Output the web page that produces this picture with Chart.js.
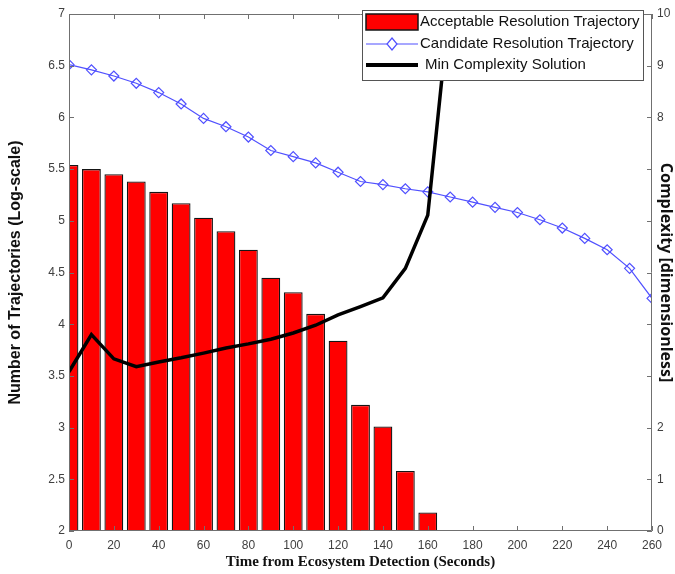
<!DOCTYPE html>
<html>
<head>
<meta charset="utf-8">
<script src="https://cdn.jsdelivr.net/npm/chart.js@4.4.1/dist/chart.umd.min.js"></script>
<style>
    html, body { margin: 0; padding: 0; background: #fff; }
    #wrap { width: 675px; height: 574px; }
</style>
</head>
<body>
<div id="wrap"><canvas id="trajChart" width="675" height="574"></canvas></div>
<script>
// Data
const barTimes = [0, 10, 20, 30, 40, 50, 60, 70, 80, 90, 100, 110, 120, 130, 140, 150, 160];
const acceptableValues = [5.54, 5.50, 5.45, 5.38, 5.28, 5.17, 5.03, 4.90, 4.72, 4.45, 4.31, 4.10, 3.84, 3.22, 3.01, 2.58, 2.18];

const candidateTimes = [0, 10, 20, 30, 40, 50, 60, 70, 80, 90, 100, 110, 120, 130, 140, 150, 160, 170, 180, 190, 200, 210, 220, 230, 240, 250, 260];
const candidateValues = [6.51, 6.46, 6.40, 6.33, 6.24, 6.13, 5.99, 5.91, 5.81, 5.68, 5.62, 5.56, 5.47, 5.38, 5.35, 5.31, 5.28, 5.23, 5.18, 5.13, 5.08, 5.01, 4.93, 4.83, 4.72, 4.54, 4.25];

const complexityTimes = [0, 10, 20, 30, 40, 50, 60, 70, 80, 90, 100, 110, 120, 130, 140, 150, 160, 170];
const complexityValues = [3.08, 3.80, 3.33, 3.18, 3.27, 3.35, 3.44, 3.54, 3.62, 3.71, 3.83, 3.98, 4.18, 4.34, 4.51, 5.08, 6.11, 10.3];

const leftTicks = [2, 2.5, 3, 3.5, 4, 4.5, 5, 5.5, 6, 6.5, 7];
const rightTicks = [0, 1, 2, 3, 4, 5, 6, 7, 8, 9, 10];
const rightHiddenLabels = [3, 4, 5, 6, 7]; // covered by the axis title in the original
const xTicks = [0, 20, 40, 60, 80, 100, 120, 140, 160, 180, 200, 220, 240, 260];

const legendLabels = ['Acceptable Resolution Trajectory', 'Candidate Resolution Trajectory', 'Min Complexity Solution'];

const colors = {
    bar: '#ff0000',
    barEdge: '#151515',
    candidate: '#5050ff',
    complexity: '#000000',
    axis: '#707070',
    tickText: '#404040'
};

// MATLAB-style box with inward ticks
const boxPlugin = {
    id: 'boxPlugin',
    afterDatasetsDraw(chart) {
        const { ctx, chartArea: a, scales } = chart;
        const len = 5;
        ctx.save();
        ctx.strokeStyle = colors.axis;
        ctx.lineWidth = 1;
        ctx.beginPath();
        ctx.rect(a.left + 0.5, a.top + 0.5, a.right - a.left - 1, a.bottom - a.top - 1);
        xTicks.forEach(v => {
            const px = Math.round(scales.x.getPixelForValue(v)) + 0.5;
            ctx.moveTo(px, a.bottom); ctx.lineTo(px, a.bottom - len);
            ctx.moveTo(px, a.top); ctx.lineTo(px, a.top + len);
        });
        leftTicks.forEach(v => {
            const py = Math.round(scales.y.getPixelForValue(v)) + 0.5;
            ctx.moveTo(a.left, py); ctx.lineTo(a.left + len, py);
        });
        rightTicks.forEach(v => {
            const py = Math.round(scales.y2.getPixelForValue(v)) + 0.5;
            ctx.moveTo(a.right, py); ctx.lineTo(a.right - len, py);
        });
        ctx.stroke();
        ctx.restore();
    },
    afterDraw(chart) {
        const { ctx } = chart;
        const x0 = 362, y0 = 10, w = 281, h = 70;
        ctx.save();
        ctx.fillStyle = '#fff';
        ctx.fillRect(x0, y0, w, h);
        ctx.strokeStyle = '#555';
        ctx.lineWidth = 1;
        ctx.strokeRect(x0 + 0.5, y0 + 0.5, w, h);

        ctx.font = '15px "Liberation Sans", Arial, sans-serif';
        ctx.textBaseline = 'middle';
        const rows = [22, 44, 65];

        // bar swatch
        ctx.fillStyle = colors.bar;
        ctx.fillRect(366, 14, 52, 16);
        ctx.strokeStyle = colors.barEdge;
        ctx.lineWidth = 1.5;
        ctx.strokeRect(366, 14, 52, 16);

        // line + diamond
        ctx.strokeStyle = colors.candidate;
        ctx.lineWidth = 1.2;
        ctx.beginPath();
        ctx.moveTo(366, rows[1]); ctx.lineTo(418, rows[1]);
        ctx.stroke();
        ctx.fillStyle = '#fff';
        ctx.beginPath();
        ctx.moveTo(392, rows[1] - 6); ctx.lineTo(397, rows[1]);
        ctx.lineTo(392, rows[1] + 6); ctx.lineTo(387, rows[1]);
        ctx.closePath();
        ctx.fill(); ctx.stroke();

        // thick black line
        ctx.strokeStyle = colors.complexity;
        ctx.lineWidth = 4;
        ctx.beginPath();
        ctx.moveTo(366, rows[2]); ctx.lineTo(418, rows[2]);
        ctx.stroke();

        ctx.fillStyle = '#111';
        ctx.fillText(legendLabels[0], 420, rows[0]);
        ctx.fillText(legendLabels[1], 420, rows[1]);
        ctx.fillText(legendLabels[2], 425, rows[2]);
        ctx.restore();
    }
};

const tickFont = { family: '"Liberation Sans", Arial, sans-serif', size: 12 };
const noGrid = { display: false, drawTicks: false, tickLength: 0 };

new Chart(document.getElementById('trajChart'), {
    type: 'bar',
    data: {
        datasets: [
            {
                type: 'line',
                label: legendLabels[2],
                data: complexityTimes.map((t, i) => ({ x: t, y: complexityValues[i] })),
                yAxisID: 'y2',
                borderColor: colors.complexity,
                borderWidth: 3.5,
                pointRadius: 0,
                tension: 0,
                order: 0
            },
            {
                type: 'line',
                label: legendLabels[1],
                data: candidateTimes.map((t, i) => ({ x: t, y: candidateValues[i] })),
                yAxisID: 'y',
                borderColor: colors.candidate,
                borderWidth: 1.2,
                pointStyle: 'rectRot',
                pointRadius: 5,
                pointBorderWidth: 1.2,
                pointBackgroundColor: 'rgba(255,255,255,0)',
                pointBorderColor: colors.candidate,
                order: 1
            },
            {
                type: 'bar',
                label: legendLabels[0],
                data: barTimes.map((t, i) => ({ x: t, y: acceptableValues[i] })),
                yAxisID: 'y',
                backgroundColor: colors.bar,
                borderColor: colors.barEdge,
                borderWidth: 1.3,
                barPercentage: 1,
                categoryPercentage: 0.84,
                order: 2
            }
        ]
    },
    options: {
        responsive: false,
        devicePixelRatio: 1,
        animation: false,
        layout: { padding: { top: 14, left: 0, right: 0, bottom: 0 } },
        plugins: {
            legend: { display: false },
            tooltip: { enabled: false }
        },
        scales: {
            x: {
                type: 'linear',
                offset: false,
                min: 0,
                max: 260,
                afterBuildTicks: (scale) => { scale.ticks = xTicks.map(v => ({ value: v })); },
                grid: { ...noGrid, offset: false },
                border: { display: false },
                ticks: { font: tickFont, color: colors.tickText, padding: 7, maxRotation: 0, callback: (v) => String(v) },
                title: {
                    display: true,
                    text: 'Time from Ecosystem Detection (Seconds)',
                    font: { family: '"Liberation Serif", "Times New Roman", serif', size: 15, weight: 'bold' },
                    color: '#111',
                    padding: { top: 0, bottom: 3 }
                },
                afterFit: (scale) => { scale.height = 43; }
            },
            y: {
                position: 'left',
                min: 2,
                max: 7,
                afterBuildTicks: (scale) => { scale.ticks = leftTicks.map(v => ({ value: v })); },
                grid: noGrid,
                border: { display: false },
                ticks: { font: tickFont, color: colors.tickText, padding: 4, callback: (v) => String(v) },
                title: {
                    display: true,
                    text: 'Number of Trajectories (Log-scale)',
                    font: { family: '"Liberation Sans", Arial, sans-serif', size: 16, weight: 'bold' },
                    color: '#111',
                    padding: { top: 6, bottom: 0 }
                },
                afterFit: (scale) => { scale.width = 69; }
            },
            y2: {
                position: 'right',
                min: 0,
                max: 10,
                afterBuildTicks: (scale) => { scale.ticks = rightTicks.map(v => ({ value: v })); },
                grid: noGrid,
                border: { display: false },
                ticks: {
                    font: tickFont,
                    color: colors.tickText,
                    padding: 5,
                    callback: (v) => rightHiddenLabels.includes(v) ? '' : String(v)
                },
                title: {
                    display: true,
                    text: 'Complexity [dimensionless]',
                    font: { family: '"Open Sans", "Liberation Sans", sans-serif', size: 16, weight: 'bold' },
                    color: '#111',
                    padding: { top: 0, bottom: 0 }
                },
                afterFit: (scale) => { scale.width = 23; }
            }
        }
    },
    plugins: [boxPlugin]
});
</script>
</body>
</html>
